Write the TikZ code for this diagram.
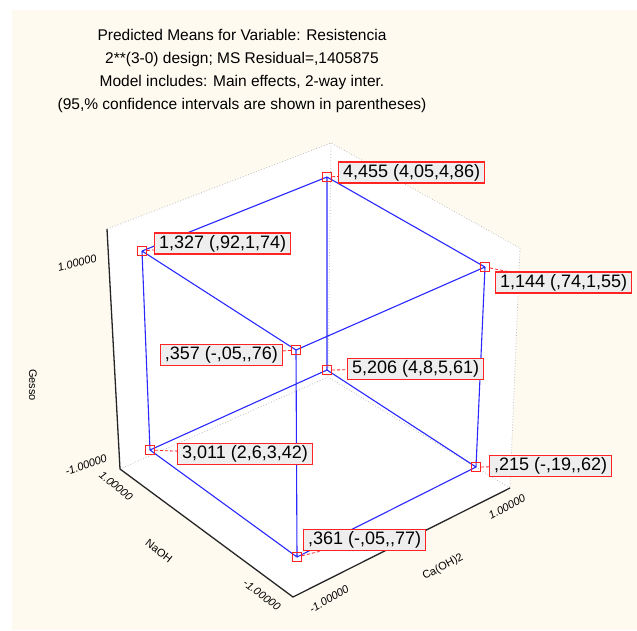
\documentclass[tikz,border=0pt]{standalone}
\usepackage{fontspec}
\setmainfont{Liberation Sans}
\definecolor{cream}{RGB}{254,250,240}
\definecolor{plotblue}{RGB}{40,40,255}
\definecolor{mred}{RGB}{255,35,35}
\definecolor{lblfill}{RGB}{238,238,238}
\definecolor{gridgray}{RGB}{190,190,190}
\newcommand{\cc}{,\kern0pt,}
\tikzset{
  edge/.style={draw=plotblue, line width=1.1pt},
  marker/.style={draw=mred, rectangle, minimum size=9pt, inner sep=0pt, line width=1.1pt},
  lbl/.style={draw=mred, fill=lblfill, line width=1.2pt, font=\fontsize{18}{18}\selectfont,
    inner xsep=4.5pt, inner ysep=2.5pt, text height=12.5pt, text depth=3.5pt},
  leader/.style={draw=mred, dashed, dash pattern=on 3pt off 2pt, line width=0.8pt},
  wallline/.style={draw=gridgray, dotted, line width=0.8pt},
  axisline/.style={draw=black!85, line width=1.3pt},
  tick/.style={font=\fontsize{11}{11}\selectfont\itshape, inner sep=0pt},
  axname/.style={font=\fontsize{11}{11}\selectfont, inner sep=0pt},
  titletext/.style={font=\fontsize{15.5}{23}\selectfont, align=center, inner sep=0pt}
}
\begin{document}
\begin{tikzpicture}[x=1pt,y=-1pt]
\useasboundingbox (0,0) rectangle (637,630);
\fill[cream] (12,10) rectangle (637,630);

% title
\node[titletext] (title) at (242,71) {Predicted Means for Variable: Resistencia\\
2**(3-0) design; MS Residual=,1405875\\
Model includes: Main effects, 2-way inter.\\
(95,\% confidence intervals are shown in parentheses)};

% box corners
\coordinate (Plt) at (107,229);
\coordinate (Ptop) at (331,143);
\coordinate (Prt) at (520,248);
\coordinate (Prb) at (510,488);
\coordinate (Pfb) at (293,597);
\coordinate (Plb) at (120,469);
\coordinate (Pbk) at (328,377);
\fill[white] (Plt) -- (Ptop) -- (Prt) -- (Prb) -- (Pfb) -- (Plb) -- cycle;
\draw[wallline] (Plt) -- (Ptop) -- (Prt) -- (Prb);
\draw[wallline] (Ptop) -- (Pbk);
\draw[wallline] (Plb) -- (Pbk) -- (Prb);
\draw[axisline] (Plt) -- (Plb) -- (Pfb) -- (Prb);

% axis labels
\node[axname, rotate=-90] (gesso) at (33,385) {Gesso};
\node[tick, rotate=15] (g1) at (77,263) {1.00000};
\node[tick, rotate=20] (g0) at (86,465) {-1.00000};
\node[tick, rotate=-40] (n1) at (116,486) {1.00000};
\node[axname, rotate=-38] (naoh) at (159,551) {NaOH};
\node[tick, rotate=-37] (n0) at (262,595) {-1.00000};
\node[tick, rotate=30] (c0) at (329,599) {-1.00000};
\node[axname, rotate=28] (caoh) at (443,567) {Ca(OH)2};
\node[tick, rotate=28] (c1) at (507,507) {1.00000};

% data cube markers
\coordinate (A) at (327,177);
\coordinate (B) at (142,251);
\coordinate (C) at (485,267);
\coordinate (D) at (296,350);
\coordinate (E) at (327,370);
\coordinate (F) at (150,450);
\coordinate (G) at (476,467);
\coordinate (H) at (297,557);

\draw[edge] (A) -- (B) (A) -- (C) (A) -- (E)
  (B) -- (D) (C) -- (D) (D) -- (H)
  (B) -- (F) (C) -- (G)
  (E) -- (F) (E) -- (G) (F) -- (H) (G) -- (H);

\foreach \p in {A,B,C,D,E,F,G,H} {\node[marker] (m\p) at (\p) {};}

% value labels
\node[lbl, anchor=west] (lA) at (338,172.5) {4,455 (4,05,4,86)};
\node[lbl, anchor=west] (lB) at (154,243.5) {1,327 (,92,1,74)};
\node[lbl, anchor=west] (lC) at (495,282.5) {1,144 (,74,1,55)};
\node[lbl, anchor=east] (lD) at (283,355) {,357 (-,05\cc76)};
\node[lbl, anchor=west] (lE) at (347,369) {5,206 (4,8,5,61)};
\node[lbl, anchor=west] (lF) at (177,454) {3,011 (2,6,3,42)};
\node[lbl, anchor=west] (lG) at (489,466) {,215 (-,19\cc62)};
\node[lbl, anchor=west] (lH) at (303,540) {,361 (-,05\cc77)};

\foreach \p in {A,B,C,D,E,F,G,H} {\draw[leader] (m\p) -- (l\p);}
\end{tikzpicture}
\end{document}
